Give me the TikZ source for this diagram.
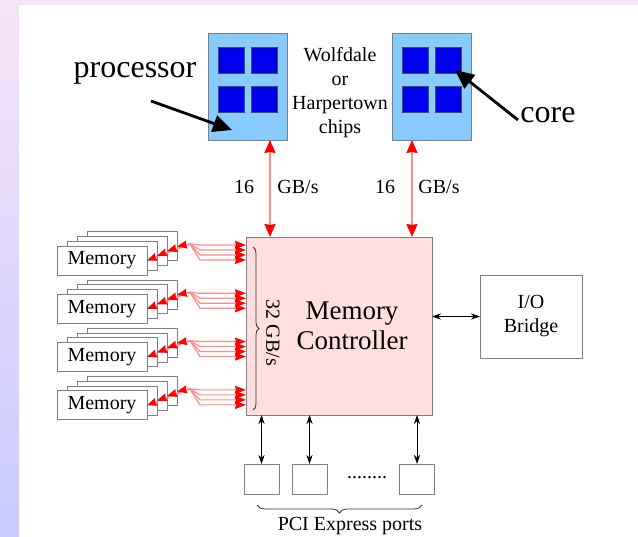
\documentclass[tikz,border=0pt]{standalone}
\usepackage{fontspec}
\setmainfont{Liberation Serif}
\usetikzlibrary{arrows.meta,decorations.pathreplacing,calc}

\definecolor{procblue}{HTML}{88CCFF}
\definecolor{coreblue}{HTML}{0000EE}
\definecolor{mcpink}{HTML}{FFDEDE}
\definecolor{edgegray}{HTML}{808080}
\definecolor{bandpink}{HTML}{F7E3F7}
\definecolor{bandblue}{HTML}{C8CBFE}
\definecolor{busred}{HTML}{FF8C8C}

\tikzset{
  box/.style={draw=edgegray, line width=0.9pt, fill=white, inner sep=0pt, outer sep=0pt},
  chip/.style={draw=edgegray, fill=procblue, line width=0.9pt, minimum width=79pt,
    minimum height=107pt, inner sep=0pt, outer sep=0pt},
  corebox/.style={draw=black!70, fill=coreblue, minimum size=26pt, inner sep=0pt, line width=0.6pt},
  lbl/.style={font=\fontsize{20}{24}\selectfont, inner sep=0pt, align=center},
  bigl/.style={font=\fontsize{32}{36}\selectfont, inner sep=0pt},
  bus/.style={draw=busred, line width=2pt,
    {Stealth[color=red,length=13pt,width=11pt,inset=1pt]}-{Stealth[color=red,length=13pt,width=11pt,inset=1pt]}},
  membus/.style={draw=busred, line width=1.2pt, line join=round,
    {Stealth[color=red,length=10pt,width=8pt,inset=1pt]}-{Stealth[color=red,length=11pt,width=8pt,inset=1pt]}},
  link/.style={draw=black, line width=0.8pt,
    {Stealth[length=9pt,width=6pt]}-{Stealth[length=9pt,width=6pt]}},
  pointer/.style={draw=black, line width=2.8pt, -{Triangle[length=19pt,width=17pt]}},
  curly/.style={draw=black!80, line width=0.8pt, decorate}
}

\begin{document}
\begin{tikzpicture}[x=1pt,y=-1pt]
\useasboundingbox (0,0) rectangle (638,537);
% page background with coloured margins
\fill[white] (0,0) rectangle (638,537);
\fill[bandpink] (0,0) rectangle (638,5);
\shade[top color=bandpink, bottom color=bandblue] (0,0) rectangle (19,537);

% processor chips with four cores each
\node[chip] (p1) at (247.5,86.5) {};
\node[chip] (p2) at (431.5,86.5) {};
\foreach \p/\cx in {1/247.5, 2/431.5}{
  \node[corebox] (c\p-1) at (\cx-16.5,60) {};
  \node[corebox] (c\p-2) at (\cx+17,60) {};
  \node[corebox] (c\p-3) at (\cx-16.5,99.5) {};
  \node[corebox] (c\p-4) at (\cx+17,99.5) {};
}
\node[lbl] (chipname) at (340,93) {Wolfdale\\or\\Harpertown\\chips};

% annotations
\node[bigl, anchor=base] (proclbl) at (135,78) {processor};
\node[bigl, anchor=base] (corelbl) at (548,123) {core};
\coordinate (ptail) at (151,101);
\coordinate (ptip) at (232,130);
\coordinate (ctail) at (518,120);
\coordinate (ctip) at (455,70);
\draw[pointer] (ptail) -- (ptip);
\draw[pointer] (ctail) -- (ctip);

% memory controller
\node[draw=edgegray, fill=mcpink, line width=0.9pt, minimum width=186pt, minimum height=178pt,
  inner sep=0pt, outer sep=0pt] (mc) at (339,326) {};
\node[font=\fontsize{27}{30}\selectfont, align=center, inner sep=0pt] (mclbl) at (352,326)
  {Memory\\Controller};
\draw[curly, decoration={brace, amplitude=6pt}] (253,247) -- (253,410);
\node[lbl, rotate=-90] (mcbw) at (273,333) {32 GB/s};

% front-side buses
\draw[bus] ([xshift=22.5pt]p1.south) -- ([xshift=22.5pt]p1.south |- mc.north);
\draw[bus] ([xshift=-19.5pt]p2.south) -- ([xshift=-19.5pt]p2.south |- mc.north);
\node[lbl] (bw1a) at (244,187) {16};
\node[lbl] (bw1b) at (298,187) {GB/s};
\node[lbl] (bw2a) at (385,187) {16};
\node[lbl] (bw2b) at (439,187) {GB/s};

% I/O bridge
\node[box, minimum width=102pt, minimum height=83pt, lbl] (io) at (531,316.5) {I/O\\Bridge};
\draw[link] (mc.east |- io.west) -- (io.west);

% PCI Express ports
\node[box, minimum width=35pt, minimum height=30pt] (pc1) at (261.5,479) {};
\node[box, minimum width=35pt, minimum height=30pt] (pc2) at (309.5,479) {};
\node[box, minimum width=35pt, minimum height=30pt] (pc3) at (417,479) {};
\node[lbl] (dots) at (367,478) {........};
\foreach \i in {1,2,3}{
  \draw[link] (pc\i.north |- mc.south) -- (pc\i.north);
}
\draw[curly, decoration={brace, amplitude=8pt}] (422,505) -- (257,505);
\node[lbl] (pcilbl) at (350,526) {PCI Express ports};

% stacked memory modules and their channels
\foreach \g in {0,1,2,3}{
  \pgfmathsetmacro{\T}{246+48.3*\g}
  \foreach \k in {3,2,1}{
    \node[box, minimum width=90pt, minimum height=29pt] (m\g-\k) at (102+10*\k, \T+14.5-4.7*\k) {};
  }
  \node[box, minimum width=90pt, minimum height=29pt, lbl] (m\g-0) at (102, \T+14.5) {Memory};
  \coordinate (j\g) at (190, \T-2);
  \foreach \k in {0,...,3}{
    \coordinate (h\g-\k) at (200, \T-1+5*\k);
    \draw[membus] (m\g-\k.east) -- (j\g) -- (h\g-\k) -- (mc.west |- h\g-\k);
  }
}
\end{tikzpicture}
\end{document}
